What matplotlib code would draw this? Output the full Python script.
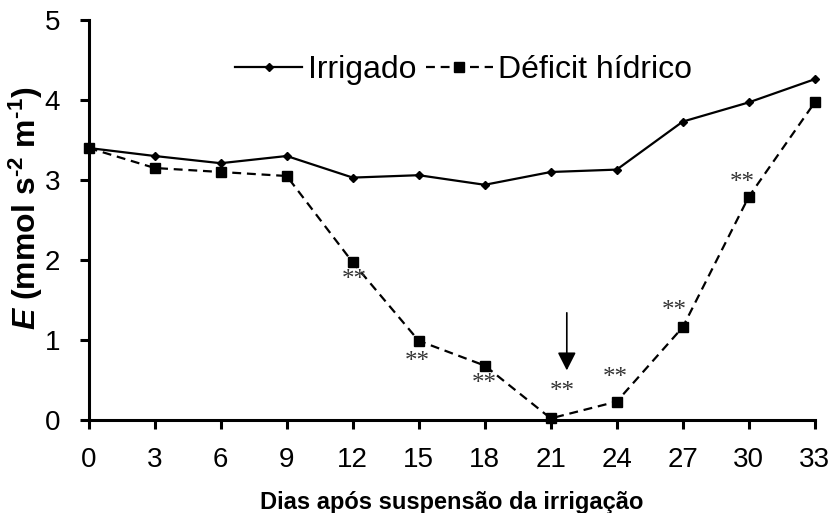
import matplotlib
matplotlib.use('Agg')
import matplotlib.pyplot as plt

# dias apos suspensao da irrigacao
dias = [0, 3, 6, 9, 12, 15, 18, 21, 24, 27, 30, 33]
irrigado = [3.40, 3.30, 3.21, 3.30, 3.03, 3.06, 2.94, 3.10, 3.13, 3.73, 3.97, 4.26]
deficit = [3.40, 3.15, 3.10, 3.05, 1.97, 0.99, 0.68, 0.02, 0.23, 1.16, 2.79, 3.97]

# dias com diferenca significativa (**)
sig_dias = [12, 15, 18, 21, 24, 27, 30]

plt.rcParams['font.family'] = ['Liberation Sans', 'DejaVu Sans']
plt.rcParams['mathtext.fontset'] = 'custom'
plt.rcParams['mathtext.rm'] = 'Liberation Sans'
plt.rcParams['mathtext.bf'] = 'Liberation Sans:bold'
plt.rcParams['mathtext.it'] = 'Liberation Sans:italic'
plt.rcParams['mathtext.bfit'] = 'Liberation Sans:italic:bold'

fig = plt.figure(figsize=(8.33, 5.13), dpi=100)
ax = fig.add_axes([0.1065, 0.1813, 0.8716, 0.7797])

ax.plot(dias, irrigado, '-', color='black', lw=1.6, marker='D', ms=4.5,
        label='Irrigado', clip_on=False, zorder=3)
ax.plot(dias, deficit, color='black', lw=1.6, ls=(0, (4, 2.6)), marker='s', ms=6.5,
        label='Déficit hídrico', clip_on=False, zorder=3)

# posicao dos asteriscos em relacao ao ponto (pontos tipograficos)
offsets = {12: (1, -13), 15: (-1, -15), 18: (0, -13), 21: (8, 19),
           24: (-1, 17), 27: (-6, 12), 30: (-5, 10)}
for d in sig_dias:
    i = dias.index(d)
    ax.annotate('**', (d, deficit[i]), xytext=offsets[d], textcoords='offset points',
                ha='center', va='center', fontsize=18, family='Liberation Serif',
                color='#333333')

# seta indicando a reirrigacao
ax.annotate('', xy=(21.73, 0.62), xytext=(21.73, 1.34),
            arrowprops=dict(arrowstyle='-|>,head_length=0.55,head_width=0.28',
                            mutation_scale=20, color='black', lw=1.2,
                            shrinkA=0, shrinkB=0))

ax.set_xlim(0, 33)
ax.set_ylim(0, 5)
ax.set_xticks(dias)
ax.set_yticks([0, 1, 2, 3, 4, 5])
ax.spines['top'].set_visible(False)
ax.spines['right'].set_visible(False)
for s in ['left', 'bottom']:
    ax.spines[s].set_linewidth(2.2)
ax.tick_params(axis='both', direction='out', length=6.5, width=2.2, labelsize=20)
ax.tick_params(axis='x', pad=13)
ax.tick_params(axis='y', pad=14)

ax.set_xlabel('Dias após suspensão da irrigação', fontsize=17, fontweight='bold')
ax.xaxis.set_label_coords(0.5, -0.178)
ax.set_ylabel('$\\mathbfit{E}$ (mmol s$^{\\mathbf{\u2010}\\mathbf{2}}$ m$^{\\mathbf{\u2010}\\mathbf{1}}$)',
              fontsize=23, fontweight='bold')
ax.yaxis.set_label_coords(-0.06, 0.53)

ax.legend(ncol=2, frameon=False, fontsize=23, handlelength=2.1, handletextpad=0.17,
          columnspacing=0.3, loc='center left', bbox_to_anchor=(0.2018, 0.875),
          borderaxespad=0, borderpad=0)

fig.savefig('out.png', dpi=100)
